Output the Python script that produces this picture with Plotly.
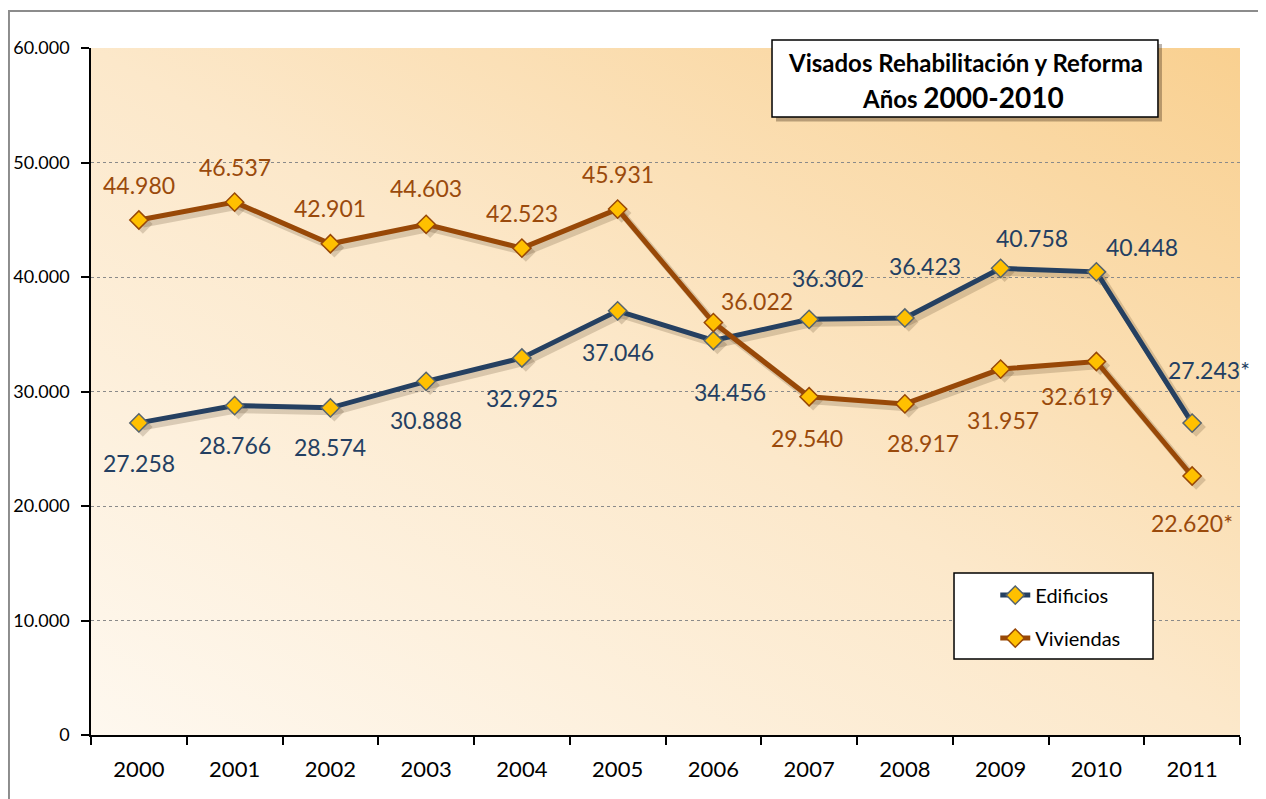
import base64
import plotly.graph_objects as go

# ---------------- data ----------------
years = [2000, 2001, 2002, 2003, 2004, 2005, 2006, 2007, 2008, 2009, 2010, 2011]
edificios = [27258, 28766, 28574, 30888, 32925, 37046, 34456, 36302, 36423, 40758, 40448, 27243]
viviendas = [44980, 46537, 42901, 44603, 42523, 45931, 36022, 29540, 28917, 31957, 32619, 22620]
starred = [False] * 11 + [True]          # provisional values marked with *
y_ticks = [0, 10000, 20000, 30000, 40000, 50000, 60000]
series_names = ["Edificios", "Viviendas"]
title_line1 = "Visados Rehabilitación y Reforma"
title_line2_a = "Años "
title_line2_b = "2000-2010"

# label offsets (pixels) relative to each point
edi_shift = [(0, -40), (0, -39), (0, -39), (0, -39), (0, -40), (0, -41),
             (17, -52), (19, 41), (20, 52), (31, 30), (46, 25), (17, 53)]
viv_shift = [(0, 35), (0, 35), (0, 36), (0, 36), (0, 35), (0, 35),
             (44, 22), (-2, -41), (18, -39), (2, -51), (-19, -34), (0, -47)]

FONT = "Lato, Carlito, Calibri, sans-serif"
C_EDI = "#254061"
C_VIV = "#984807"
T_EDI = "#243F62"
T_VIV = "#9A4A0C"
GOLD = "#FFC000"


def fmt(v, star):
    s = f"{v:,}".replace(",", ".")
    return s + ("*" if star else "")


# ---------------- gradient background ----------------
svg = ('<svg xmlns="http://www.w3.org/2000/svg" width="200" height="100" viewBox="0 0 200 100" '
       'preserveAspectRatio="none"><defs><linearGradient id="g" x1="0" y1="1" x2="1" y2="0">'
       '<stop offset="0" stop-color="#FEF8EF"/><stop offset="0.5" stop-color="#FCE8CA"/>'
       '<stop offset="1" stop-color="#F9D090"/></linearGradient></defs>'
       '<rect width="200" height="100" fill="url(#g)"/></svg>')
svg_uri = "data:image/svg+xml;base64," + base64.b64encode(svg.encode()).decode()

fig = go.Figure()

# shadows (on shifted overlay axes x2/y2)
for vals in (edificios, viviendas):
    fig.add_trace(go.Scatter(
        x=years, y=vals, mode="lines+markers", xaxis="x2", yaxis="y2",
        line=dict(color="rgba(60,40,10,0.18)", width=7),
        marker=dict(symbol="diamond", size=15, color="rgba(60,40,10,0.18)"),
        showlegend=False, hoverinfo="skip"))

# main series (overlay axes x3/y3 with same range as main axes)
for name, vals, lc, mlc, grp in ((series_names[0], edificios, C_EDI, "#56646E", "a"),
                                 (series_names[1], viviendas, C_VIV, C_VIV, "b")):
    fig.add_trace(go.Scatter(
        x=years, y=vals, mode="lines+markers", name=name, xaxis="x3", yaxis="y3",
        line=dict(color=lc, width=5),
        marker=dict(symbol="diamond", size=14, color=GOLD, line=dict(color=mlc, width=1.5)),
        legendgroup=grp))

# data labels
annotations = []
for vals, shifts, col in ((edificios, edi_shift, T_EDI), (viviendas, viv_shift, T_VIV)):
    for x, v, st, (dx, dy) in zip(years, vals, starred, shifts):
        annotations.append(dict(
            x=x, y=v, xref="x", yref="y", text=fmt(v, st), showarrow=False,
            xanchor="center", yanchor="middle",
            xshift=dx, yshift=dy, font=dict(family=FONT, size=23, color=col)))

# title text
annotations.append(dict(x=0.7607, y=0.9796, xref="paper", yref="paper", showarrow=False,
                        xanchor="center", yanchor="middle",
                        text=f"<b>{title_line1}</b>",
                        font=dict(family=FONT, size=24, color="black")))
annotations.append(dict(x=0.7590, y=0.9290, xref="paper", yref="paper", showarrow=False,
                        xanchor="center", yanchor="middle",
                        text=f"<b>{title_line2_a}<span style='font-size:28px'>{title_line2_b}</span></b>",
                        font=dict(family=FONT, size=24, color="black")))

shapes = [
    # outer chart border
    dict(type="rect", xref="paper", yref="paper", x0=-0.0714, x1=1.0200, y0=-0.11, y1=1.0539,
         line=dict(color="#8C8C8C", width=2), fillcolor="rgba(0,0,0,0)", layer="below"),
    # title box shadow + box
    dict(type="rect", xref="paper", yref="paper", x0=0.5962, x1=0.9321, y0=0.8930, y1=1.0058,
         line=dict(width=0), fillcolor="rgba(60,40,20,0.35)"),
    dict(type="rect", xref="paper", yref="paper", x0=0.5927, x1=0.9286, y0=0.8996, y1=1.0116,
         line=dict(color="black", width=1.5), fillcolor="white"),
    # legend box
    dict(type="rect", xref="paper", yref="paper", x0=0.7511, x1=0.9243, y0=0.1106, y1=0.2358,
         line=dict(color="black", width=1.5), fillcolor="white"),
]

xr = [1999.5, 2011.5]
yr = [0, 60000]
px_x = (xr[1] - xr[0]) / 1149.0
px_y = (yr[1] - yr[0]) / 687.0
sx, sy = 4 * px_x, 4 * px_y

fig.update_layout(
    width=1266, height=799,
    margin=dict(l=83, r=34, t=40, b=72, autoexpand=False),
    paper_bgcolor="white",
    plot_bgcolor="rgba(0,0,0,0)",
    separators=",.",
    font=dict(family=FONT, color="black"),
    images=[dict(source=svg_uri, xref="paper", yref="paper", x=0, y=1, sizex=1, sizey=1,
                 xanchor="left", yanchor="top", sizing="stretch", layer="below")],
    xaxis=dict(range=xr, tickmode="array", tickvals=years, ticktext=[str(y) for y in years],
               ticks="", showgrid=False, zeroline=False, showline=True, linecolor="black",
               linewidth=1.5, tickfont=dict(family=FONT, size=22, color="black"),
               ticklabelstandoff=14, automargin=False,
               minor=dict(ticks="outside", ticklen=8, tickcolor="black", tickwidth=1.5,
                          tick0=1999.5, dtick=1, showgrid=False)),
    yaxis=dict(range=yr, tickmode="array", tickvals=y_ticks, tickformat=",d",
               ticks="outside", ticklen=8, tickcolor="black", tickwidth=1.5,
               showgrid=True, gridcolor="#8A8A8A", griddash="dot", gridwidth=1,
               zeroline=False, showline=True, linecolor="black", linewidth=1.5,
               tickfont=dict(family=FONT, size=18, color="black"), ticklabelstandoff=8,
               automargin=False),
    xaxis2=dict(overlaying="x", range=[xr[0] - sx, xr[1] - sx], visible=False),
    yaxis2=dict(overlaying="y", range=[yr[0] + sy, yr[1] + sy], visible=False),
    xaxis3=dict(overlaying="x", range=xr, visible=False),
    yaxis3=dict(overlaying="y", range=yr, visible=False),
    legend=dict(x=0.787, y=0.232, xanchor="left", yanchor="top", bgcolor="rgba(0,0,0,0)",
                borderwidth=0, traceorder="grouped", tracegroupgap=14,
                font=dict(family=FONT, size=20, color="black")),
    annotations=annotations,
    shapes=shapes,
)

fig.write_html("out.html")
